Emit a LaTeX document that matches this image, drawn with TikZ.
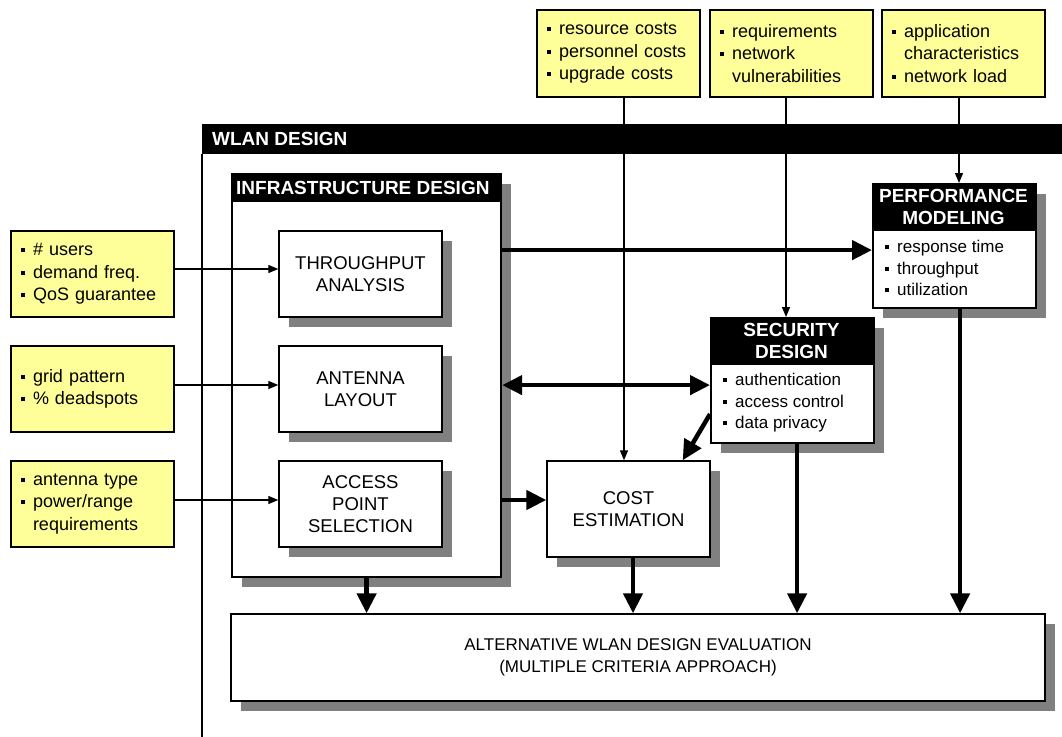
\documentclass[tikz,border=0pt]{standalone}
\usepackage{fontspec}
\setmainfont{Liberation Sans}
\usetikzlibrary{arrows.meta,shadows}
\definecolor{ylw}{HTML}{FFFF99}
\definecolor{shd}{HTML}{808080}
\newcommand{\bu}{\makebox[12pt][l]{\raisebox{3.5pt}{\rule{4pt}{4pt}}}}
\newcommand{\ind}{\hspace*{12pt}}
\begin{document}
\begin{tikzpicture}[x=1pt,y=-1pt,
  ybox/.style={draw=black, line width=1.4pt, fill=ylw, text width=143pt, align=left,
    inner xsep=10pt, inner ysep=0pt, font=\fontsize{18}{22.5}\selectfont, minimum height=87pt},
  sh/.style={drop shadow={shadow xshift=10pt, shadow yshift=-10pt, fill=shd, opacity=1}},
  pbox/.style={draw=black, line width=1.4pt, fill=white, sh, minimum width=163pt,
    minimum height=86pt, align=center, inner sep=0pt, font=\fontsize{18.5}{22}\selectfont},
  frame/.style={draw=black, line width=2.2pt, fill=white, sh, inner sep=0pt, anchor=north west},
  hbar/.style={fill=black, inner sep=0pt, anchor=north west},
  hdr/.style={text=white, align=center, inner sep=5pt, font=\bfseries\fontsize{19}{22}\selectfont},
  blist/.style={align=left, inner sep=0pt, anchor=west, font=\fontsize{17}{21.5}\selectfont},
  thinarr/.style={draw=black, line width=1.3pt, -{Triangle[length=10pt,width=8pt]}},
  thickarr/.style={draw=black, line width=4.5pt, -{Triangle[length=20pt,width=19pt]}},
  botharr/.style={draw=black, line width=4.5pt, {Triangle[length=20pt,width=19pt]}-{Triangle[length=20pt,width=19pt]}}
]
\useasboundingbox (0,0) rectangle (1062,736);

% top input boxes
\node[ybox] (ca) at (618.5,53.5) {\bu resource costs\\ \bu personnel costs\\ \bu upgrade costs};
\node[ybox] (cb) at (791.5,53.5) {\bu requirements\\ \bu network\\ \ind vulnerabilities};
\node[ybox] (cc) at (963.5,53.5) {\bu application\\ \ind characteristics\\ \bu network load};

% left input boxes
\node[ybox, minimum height=86pt] (u1) at (92.5,274) {\bu \# users\\ \bu demand freq.\\ \bu QoS guarantee};
\node[ybox, minimum height=86pt] (u2) at (92.5,389) {\bu grid pattern\\ \bu \% deadspots};
\node[ybox, minimum height=86pt] (u3) at (92.5,504) {\bu antenna type\\ \bu power/range\\ \ind requirements};

% WLAN design frame
\node[hbar, minimum width=870pt, minimum height=30pt] (wlan) at (202,124) {};
\node[hdr, anchor=west, align=left] (wlanT) at (207,139) {WLAN DESIGN};
\coordinate (wlanbot) at (203,745);
\draw[line width=1.3pt] (wlan.south west) -- (wlan.south west |- wlanbot);

% infrastructure design
\node[frame, minimum width=269pt, minimum height=403pt] (infra) at (231,173) {};
\node[hbar, minimum width=269pt, minimum height=29pt] (infraH) at (231,173) {};
\node[hdr, anchor=west, align=left] (infraT) at (231,187.5) {INFRASTRUCTURE DESIGN};

\node[pbox] (tp) at (360.5,274) {THROUGHPUT\\ANALYSIS};
\node[pbox] (al) at (360.5,389) {ANTENNA\\LAYOUT};
\node[pbox] (ap) at (360.5,504) {ACCESS\\POINT\\SELECTION};

% cost estimation
\node[pbox, minimum height=96pt] (cost) at (628.5,509) {COST\\ESTIMATION};

% security design
\node[frame, minimum width=163pt, minimum height=125pt] (sec) at (710,317) {};
\node[hbar, minimum width=163pt, minimum height=48pt] (secH) at (710,317) {};
\node[hdr] (secT) at (791.5,341) {SECURITY\\DESIGN};
\node[blist] (secB) at (723,403) {\bu authentication\\ \bu access control\\ \bu data privacy};

% performance modeling
\node[frame, minimum width=163pt, minimum height=124pt] (perf) at (872,183) {};
\node[hbar, minimum width=163pt, minimum height=48pt] (perfH) at (872,183) {};
\node[hdr] (perfT) at (953.5,207) {PERFORMANCE\\MODELING};
\node[blist] (perfB) at (885,268) {\bu response time\\ \bu throughput\\ \bu utilization};

% evaluation
\node[pbox, minimum width=814pt, minimum height=87pt, font=\fontsize{17}{22}\selectfont] (eval) at (638,657.5)
  {ALTERNATIVE WLAN DESIGN EVALUATION\\(MULTIPLE CRITERIA APPROACH)};

% connectors: left inputs
\draw[thinarr] ([yshift=5pt]u1.east) -- ([yshift=5pt]tp.west);
\draw[thinarr] ([yshift=4pt]u2.east) -- ([yshift=4pt]al.west);
\draw[thinarr] ([yshift=4pt]u3.east) -- ([yshift=4pt]ap.west);

% connectors: top inputs
\coordinate (ax) at ([xshift=5.5pt]ca.south);
\draw[thinarr] (ax) -- (ax |- cost.north);
\coordinate (bx) at ([xshift=-5.5pt]cb.south);
\draw[thinarr] (bx) -- (bx |- sec.north);
\coordinate (cx) at ([xshift=-4.5pt]cc.south);
\draw[thinarr] (cx) -- (cx |- perf.north);

% connectors: infrastructure to others
\coordinate (ty) at ([yshift=-4pt]perf.west);
\draw[thickarr] (ty -| infra.east) -- (ty);
\coordinate (sy) at ([yshift=-4.5pt]sec.west);
\draw[botharr] (sy -| infra.east) -- (sy);
\coordinate (cy) at ([yshift=9pt]cost.west);
\draw[thickarr] (cy -| infra.east) -- (cy);
\draw[thickarr] ([yshift=-33.5pt]sec.west) -- ([xshift=-28pt]cost.north east);

% connectors: to evaluation
\draw[thickarr] (infra.south) -- (infra.south |- eval.north);
\coordinate (cbx) at ([xshift=4.5pt]cost.south);
\draw[thickarr] (cbx) -- (cbx |- eval.north);
\coordinate (sbx) at ([xshift=4.5pt]sec.south);
\draw[thickarr] (sbx) -- (sbx |- eval.north);
\coordinate (pbx) at ([xshift=5.5pt]perf.south);
\draw[thickarr] (pbx) -- (pbx |- eval.north);
\end{tikzpicture}
\end{document}
